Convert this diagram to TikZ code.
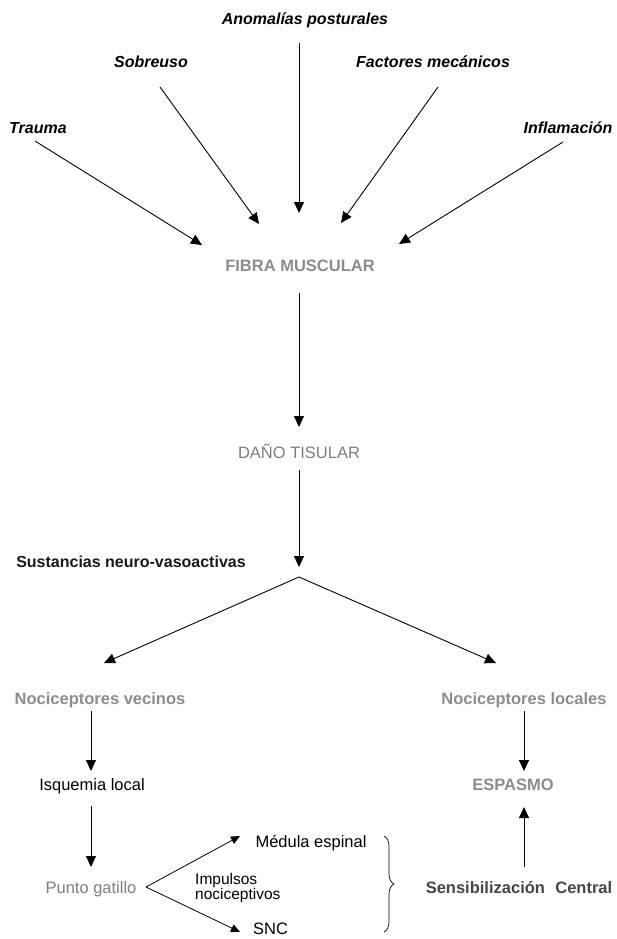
\documentclass[tikz,border=0pt]{standalone}
\usepackage{fontspec}
\setmainfont{Liberation Sans}
\usetikzlibrary{arrows.meta,decorations.pathreplacing}
\definecolor{gtext}{HTML}{8C8C8C}
\definecolor{gdark}{HTML}{454545}
\begin{document}
\begin{tikzpicture}[x=1pt,y=-1pt,
  lbl/.style={anchor=base,inner sep=0pt,font=\fontsize{16.5}{18}\selectfont},
  cause/.style={lbl,font=\fontsize{16}{18}\selectfont\bfseries\itshape},
  arr/.style={line width=0.9pt,-{Triangle[length=11pt,width=10pt]}},
  ln/.style={line width=0.9pt}]
\useasboundingbox (0,0) rectangle (616,939);
% causes
\node[cause] (anom) at (305,25) {Anomalías posturales};
\node[cause] (sobre) at (151,68) {Sobreuso};
\node[cause] (fact) at (433,68) {Factores mecánicos};
\node[cause] (trauma) at (38,133) {Trauma};
\node[cause] (infl) at (568,133) {Inflamación};
% main chain
\node[lbl,font=\fontsize{16.5}{18}\selectfont\bfseries,text=gtext] (fibra) at (300,271) {FIBRA MUSCULAR};
\node[lbl,text=gtext!90!black] (dano) at (299,458) {DAÑO TISULAR};
\node[lbl,font=\fontsize{16}{18}\selectfont\bfseries,text=black!90] (sust) at (131,567) {Sustancias neuro-vasoactivas};
\coordinate (apex) at (299,577);
% branches
\node[lbl,font=\fontsize{16.5}{18}\selectfont\bfseries,text=gtext] (vec) at (100,704) {Nociceptores vecinos};
\node[lbl,font=\fontsize{16.5}{18}\selectfont\bfseries,text=gtext] (loc) at (524,704) {Nociceptores locales};
\node[lbl] (isq) at (92,790) {Isquemia local};
\node[lbl,font=\fontsize{16.5}{18}\selectfont\bfseries,text=gtext] (esp) at (513,790) {ESPASMO};
\node[lbl,text=gtext!90!black] (punto) at (91,893) {Punto gatillo};
\node[lbl] (med) at (311,847) {Médula espinal};
\node[lbl,anchor=base west] (snc) at (253,934) {SNC};
\node[anchor=north west,inner sep=0pt,align=left,font=\fontsize{15.5}{15}\selectfont] (imp) at (195,873) {Impulsos\\nociceptivos};
\node[lbl,font=\fontsize{16.5}{18}\selectfont\bfseries,text=gdark] (sens) at (519,893) {Sensibilización\hspace{0.35em} Central};
% coordinates for connector ends
\coordinate (tr0) at (35,141);  \coordinate (tr1) at (202,245);
\coordinate (so0) at (160,87);  \coordinate (so1) at (259,224);
\coordinate (an0) at (299,43);  \coordinate (an1) at (299,213);
\coordinate (fa0) at (438,87);  \coordinate (fa1) at (341,223);
\coordinate (in0) at (563,142); \coordinate (in1) at (399,244);
\coordinate (fi0) at (299,293); \coordinate (fi1) at (299,427);
\coordinate (da0) at (299,470); \coordinate (da1) at (299,567);
\coordinate (lt) at (104,663);  \coordinate (rt) at (496,663);
\coordinate (ve0) at (91,711);  \coordinate (ve1) at (91,771);
\coordinate (is0) at (91,806);  \coordinate (is1) at (91,867);
\coordinate (lo0) at (524,711); \coordinate (lo1) at (524,771);
\coordinate (se0) at (524,867); \coordinate (se1) at (524,807);
\coordinate (pv) at (146,887);
\coordinate (mt) at (240,836);  \coordinate (st) at (240,932);
\coordinate (b0) at (384,836);  \coordinate (b1) at (384,932);
% connectors
\draw[arr] (tr0) -- (tr1);
\draw[arr] (so0) -- (so1);
\draw[arr] (an0) -- (an1);
\draw[arr] (fa0) -- (fa1);
\draw[arr] (in0) -- (in1);
\draw[arr] (fi0) -- (fi1);
\draw[arr] (da0) -- (da1);
\draw[arr] (apex) -- (lt);
\draw[arr] (apex) -- (rt);
\draw[arr] (ve0) -- (ve1);
\draw[arr] (is0) -- (is1);
\draw[arr] (lo0) -- (lo1);
\draw[arr] (se0) -- (se1);
\draw[line width=0.8pt,-{Triangle[length=9pt,width=8pt]}] (pv) -- (mt);
\draw[line width=0.8pt,-{Triangle[length=9pt,width=8pt]}] (pv) -- (st);
\draw[line width=0.7pt,decorate,decoration={brace,amplitude=10pt}] (b0) -- (b1);
\end{tikzpicture}
\end{document}
